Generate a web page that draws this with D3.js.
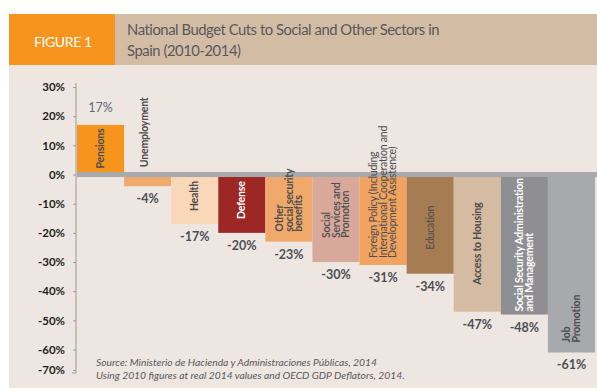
<!DOCTYPE html>
<html>
<head>
<meta charset="utf-8">
<script src="https://cdn.jsdelivr.net/npm/d3@7"></script>
<style>
  html, body { margin: 0; padding: 0; background: #ffffff; }
  svg { display: block; }
  text { font-family: Lato, "Open Sans", sans-serif; }
</style>
</head>
<body>
<svg id="chart" width="597" height="392"></svg>
<script>
// Budget change 2010-2014 by sector, in percent
const categories = [
  "Pensions", "Unemployment", "Health", "Defense", "Other social security benefits",
  "Social Services and Promotion", "Foreign Policy", "Education", "Access to Housing",
  "Social Security Administration and Management", "Job Promotion"
];
const values = [17, -4, -17, -20, -23, -30, -31, -34, -47, -48, -61];
const barLabels = [
  ["Pensions"],
  ["Unemployment"],
  ["Health"],
  ["Defense"],
  ["Other", "social security", "benefits"],
  ["Social", "Services and", "Promotion"],
  ["Foreign Policy (Including", "International Cooperation and", "Development Assistence)"],
  ["Education"],
  ["Access to Housing"],
  ["Social Security Administration", "and Management"],
  ["Job", "Promotion"]
];
const yTicks = [30, 20, 10, 0, -10, -20, -30, -40, -50, -60, -70];
const titleLines = ["National Budget Cuts to Social and Other Sectors in", "Spain (2010-2014)"];
const sourceLines = [
  "Source: Ministerio de Hacienda y Administraciones Públicas, 2014",
  "Using 2010 figures at real 2014 values and OECD GDP Deflators, 2014."
];

const barColors = ["#f7941d", "#efaa6e", "#f8d8b8", "#9c2724", "#f0a96a",
                   "#d8a99b", "#f0a45f", "#a67c52", "#d4bba2", "#8f8f93", "#a7a9ac"];
const labelColors = ["#4d4d4f", "#4d4d4f", "#4d4d4f", "#ffffff", "#4d4d4f",
                     "#4d4d4f", "#4d4d4f", "#4d4d4f", "#4d4d4f", "#ffffff", "#4d4d4f"];
const labelWeights = [700, 700, 700, 700, 700, 600, 400, 400, 700, 700, 700];
// how far each label's first glyph sits from the bar's outer end (px)
const labelLift = [6, 19, 13, 14, 10, 24, 7, 24, 27, 3, 10];

const svg = d3.select("#chart");

// header band and panel
svg.append("rect").attr("x", 9).attr("y", 65).attr("width", 588).attr("height", 323).attr("fill", "#eee6e0");
svg.append("rect").attr("x", 115).attr("y", 14).attr("width", 482).attr("height", 51).attr("fill", "#d3bca4");
svg.append("rect").attr("x", 9).attr("y", 14).attr("width", 106).attr("height", 51).attr("fill", "#f7941d");

svg.append("text").attr("x", 34).attr("y", 46.5).attr("fill", "#ffffff")
  .attr("font-size", 14).attr("letter-spacing", -0.4).attr("font-weight", 400).text("FIGURE 1");

svg.append("g").selectAll("text").data(titleLines).join("text")
  .attr("x", 127).attr("y", (d, i) => 35 + i * 21)
  .attr("fill", "#58595b").attr("font-size", 14.8).attr("letter-spacing", -0.45).text(d => d);

// scales
const y = d3.scaleLinear().domain([30, -67]).range([87, 370]).clamp(true);
const x = d3.scaleBand().domain(categories).range([77, 595]).padding(0);
const bw = x.bandwidth();

// axis
const axis = d3.axisLeft(y).tickValues(yTicks).tickSize(3).tickSizeOuter(0)
  .tickPadding(8).tickFormat(d => d + "%");
const gAxis = svg.append("g").attr("transform", "translate(76,0)").call(axis);
gAxis.select(".domain").remove();
gAxis.selectAll(".tick line").attr("stroke", "#9a9a9a");
gAxis.selectAll(".tick text").attr("fill", "#231f20").attr("font-size", 11.5)
  .attr("font-weight", 700).attr("font-family", "Lato, sans-serif");
svg.append("line").attr("x1", 76).attr("x2", 76).attr("y1", 83).attr("y2", 373)
  .attr("stroke", "#9a9a9a").attr("stroke-width", 1);
svg.append("line").attr("x1", 72).attr("x2", 76).attr("y1", 373).attr("y2", 373)
  .attr("stroke", "#9a9a9a").attr("stroke-width", 1);

const rows = categories.map((c, i) => ({ c, v: values[i], i }));

// bars
svg.append("g").selectAll("rect").data(rows).join("rect")
  .attr("x", d => x(d.c))
  .attr("y", d => Math.min(y(d.v), y(0)))
  .attr("width", bw)
  .attr("height", d => Math.abs(y(d.v) - y(0)))
  .attr("fill", d => barColors[d.i]);

// zero line
svg.append("rect").attr("x", 77).attr("y", y(0) - 2.5).attr("width", 520).attr("height", 5)
  .attr("fill", "#a7a9ac");

// value labels
svg.append("g").selectAll("text").data(rows).join("text")
  .attr("x", d => x(d.c) + bw / 2)
  .attr("y", d => d.v >= 0 ? y(d.v) - 13 : y(d.v) + 17)
  .attr("text-anchor", "middle")
  .attr("fill", d => d.v >= 0 ? "#5b6a7c" : "#4a4f58")
  .attr("font-size", 12.5).attr("font-weight", d => d.v >= 0 ? 400 : 700)
  .text(d => d.v + "%");

// rotated category labels
const lineGap = 9.6;
rows.forEach(d => {
  const lines = barLabels[d.i];
  const cx = x(d.c) + bw / 2 - (d.i === 1 ? 3 : 0);
  const baseY = d.v >= 0 ? y(0) - labelLift[d.i] : y(d.v) - labelLift[d.i];
  const g = svg.append("g").attr("transform", `translate(${cx},${baseY}) rotate(-90)`);
  lines.forEach((t, k) => {
    const off = (k - (lines.length - 1) / 2) * lineGap;
    g.append("text").attr("x", 0).attr("y", off + 3.6)
      .attr("text-anchor", "start")
      .attr("fill", labelColors[d.i])
      .attr("font-size", 10.6).attr("letter-spacing", -0.25)
      .attr("font-weight", labelWeights[d.i])
      .text(t);
  });
});

// source note
svg.append("g").selectAll("text").data(sourceLines).join("text")
  .attr("x", 96).attr("y", (d, i) => 366 + i * 13)
  .attr("fill", "#58595b").attr("font-size", 10.3).attr("font-style", "italic")
  .text(d => d);
</script>
</body>
</html>
